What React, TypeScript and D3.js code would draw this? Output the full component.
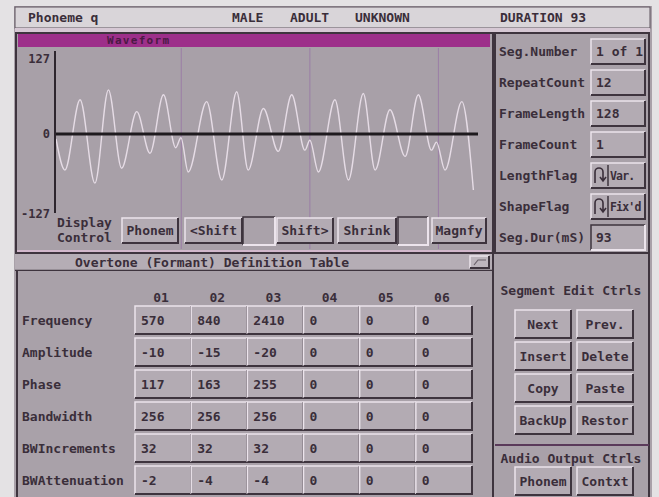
import React from "react";
import * as d3 from "d3";

// header strip
const headerFields = ["Phoneme q", "MALE", "ADULT", "UNKNOWN", "DURATION 93"];

// waveform turning points (sample index, amplitude)
const waveSample = [0, 2.7, 7.3, 11.8, 15.9, 19.9, 24.5, 28.5, 32.6, 36.3, 37.9, 40.1, 45.7, 50.3, 54.8, 58.3, 62.9, 67.4, 71.5, 75.5, 77.0, 79.6, 84.6, 88.7, 93.2, 96.8, 101.3, 105.9, 109.9, 113.9, 115.4, 118, 123.1, 126.6];
const waveValue = [-8, -58, 55, -79, 71, -55, 36, -31, 63, -22, -6, -61, 52, -74, 68, -58, 41, -28, 63, -26, -10, -61, 55, -74, 65, -58, 39, -36, 63, -26, -13, -58, 52, -90];
const gridSample = [38, 77, 116];
const yTicks = [127, 0, -127];

const displayButtons = ["Phonem", "<Shift", "", "Shift>", "Shrink", "", "Magnfy"];

const segLabels = ["Seg.Number", "RepeatCount", "FrameLength", "FrameCount", "LengthFlag", "ShapeFlag", "Seg.Dur(mS)"];
const segValues = ["1 of 1", "12", "128", "1", "Var.", "Fix'd", "93"];

const formantCols = ["01", "02", "03", "04", "05", "06"];
const formantRows = ["Frequency", "Amplitude", "Phase", "Bandwidth", "BWIncrements", "BWAttenuation"];
const frequency = [570, 840, 2410, 0, 0, 0];
const amplitude = [-10, -15, -20, 0, 0, 0];
const phase = [117, 163, 255, 0, 0, 0];
const bandwidth = [256, 256, 256, 0, 0, 0];
const bwIncrements = [32, 32, 32, 0, 0, 0];
const bwAttenuation = [-2, -4, -4, 0, 0, 0];

const editButtons = ["Next", "Prev.", "Insert", "Delete", "Copy", "Paste", "BackUp", "Restor"];
const audioButtons = ["Phonem", "Contxt"];

const W = 659;
const H = 497;
const BG = "#a9a1a9";
const BTN = "#b3abb3";
const INK = "#3a2e3a";
const LIGHT = "#ece4ec";
const DARK = "#3e343e";
const FONT = "'DejaVu Sans Mono', monospace";

const Bevel = ({ x, y, w, h, sunk = false, fill = BTN }: any) => {
  const tl = sunk ? DARK : LIGHT;
  const br = sunk ? LIGHT : DARK;
  return (
    <g>
      <rect x={x} y={y} width={w} height={h} fill={fill} />
      <path d={`M${x},${y + h} V${y} H${x + w}`} stroke={tl} strokeWidth={1.5} fill="none" />
      <path d={`M${x + w},${y} V${y + h} H${x}`} stroke={br} strokeWidth={2} fill="none" />
    </g>
  );
};

const Label = ({ x, y, children, anchor = "start", size = 13, fill = INK, ls = 0 }: any) => (
  <text x={x} y={y} fontFamily={FONT} fontWeight="bold" fontSize={size} fill={fill}
    textAnchor={anchor} dominantBaseline="central" letterSpacing={ls}>{children}</text>
);

const Button = ({ x, y, w, h, text }: any) => (
  <g>
    <Bevel x={x} y={y} w={w} h={h} />
    <Label x={x + w / 2} y={y + h / 2} anchor="middle">{text}</Label>
  </g>
);

export default function App() {
  const x = d3.scaleLinear().domain([0, 128]).range([56, 478]);
  const y = d3.scaleLinear().domain([-127, 127]).range([213, 55]);
  const wave = d3.line<number>()
    .x((_, i) => x(waveSample[i]))
    .y(d => y(d))
    .curve(d3.curveMonotoneX)(waveValue) as string;

  const headerX = [28, 232, 290, 355, 500];

  const dispX = d3.scaleOrdinal<number, number>().domain(d3.range(7)).range([122, 185, 243, 277, 338, 398, 432]);
  const dispW = [56, 57, 32, 56, 58, 30, 54];

  const segY = d3.scaleBand().domain(segLabels).range([39, 39 + 7 * 31 - 6]).paddingInner(6 / 31);

  const colX = d3.scaleBand().domain(formantCols).range([135, 472]);
  const rowY = d3.scaleBand().domain(formantRows).range([306, 306 + 6 * 32 - 4]).paddingInner(4 / 32);
  const table = [frequency, amplitude, phase, bandwidth, bwIncrements, bwAttenuation];

  const editX = d3.scaleBand().domain(["0", "1"]).range([515, 633]).paddingInner(6 / 62);
  const editY = d3.scaleBand().domain(["0", "1", "2", "3"]).range([310, 434]).paddingInner(4 / 32);

  return (
    <svg width={W} height={H} style={{ position: "absolute", left: 0, top: 0 }}>
      <rect width={W} height={H} fill="#e4e2e4" />
      <rect x={14} y={6} width={638} height={H - 6} fill={BG} />

      {/* title strip */}
      <rect x={15} y={7} width={635} height={21} fill="#d9d5d9" stroke="#5c525c" strokeWidth={1} />
      {headerFields.map((t, i) => (
        <Label key={t} x={headerX[i]} y={17}>{t}</Label>
      ))}
      <rect x={15} y={28} width={635} height={4} fill="#d6c8d4" />

      {/* waveform panel */}
      <rect x={16} y={33} width={477} height={220} fill={BG} stroke={DARK} strokeWidth={2} />
      <rect x={18} y={34} width={472} height={13} fill="#9d2f8a" />
      <Label x={107} y={40.5} size={11} ls={1.3} fill="#4a1a44">Waveform</Label>
      <rect x={18} y={47} width={472} height={203} fill="#a8a0a8" />
      {gridSample.map(g => (
        <line key={g} x1={x(g)} x2={x(g)} y1={48} y2={249} stroke="#9c80a6" strokeWidth={1.1} />
      ))}
      <path d={wave} fill="none" stroke="#e6dce6" strokeWidth={1.4} />
      <line x1={x(0)} x2={x(128)} y1={y(0)} y2={y(0)} stroke="#1e1a1e" strokeWidth={3} />
      <line x1={55} x2={55} y1={y(127) - 4} y2={y(-127)} stroke="#2e262e" strokeWidth={2} />
      {yTicks.map(t => (
        <Label key={t} x={50} y={y(t) + (t === 127 ? 4 : t === -127 ? 1 : 0)} anchor="end" size={12}>{t}</Label>
      ))}
      <Label x={57} y={222}>Display</Label>
      <Label x={57} y={237}>Control</Label>
      {displayButtons.map((b, i) =>
        b === "" ? (
          <Bevel key={i} x={dispX(i)} y={217} w={dispW[i]} h={28} sunk fill="#aaa2aa" />
        ) : (
          <Button key={i} x={dispX(i)} y={218} w={dispW[i]} h={25} text={b} />
        )
      )}
      <rect x={17} y={250} width={474} height={2} fill="#d2b8cc" />

      {/* formant table */}
      <rect x={15} y={254} width={478} height={16} fill="#b5adb5" />
      <line x1={15} x2={493} y1={270.5} y2={270.5} stroke={DARK} strokeWidth={1.5} />
      <Label x={212} y={262} anchor="middle">Overtone (Formant) Definition Table</Label>
      <Bevel x={470} y={256} w={19} h={12} fill="#bdb5bd" />
      <path d="M474,265 L478,260 H486" stroke="#6a606a" strokeWidth={1.2} fill="none" />
      <rect x={15} y={271} width={478} height={226} fill={BG} />
      <line x1={17} x2={17} y1={271} y2={H} stroke={DARK} strokeWidth={2} />
      <line x1={493} x2={493} y1={254} y2={H} stroke={DARK} strokeWidth={2} />
      {formantCols.map(c => (
        <Label key={c} x={(colX(c) as number) + colX.bandwidth() / 2 - 2} y={297} anchor="middle">{c}</Label>
      ))}
      {formantRows.map((r, ri) => (
        <g key={r}>
          <Label x={22} y={(rowY(r) as number) + rowY.bandwidth() / 2}>{r}</Label>
          {formantCols.map((c, ci) => (
            <g key={c}>
              <Bevel x={colX(c)} y={rowY(r)} w={colX.bandwidth()} h={rowY.bandwidth()} />
              <Label x={(colX(c) as number) + 6} y={(rowY(r) as number) + rowY.bandwidth() / 2}>
                {table[ri][ci]}
              </Label>
            </g>
          ))}
        </g>
      ))}

      {/* segment parameters */}
      <rect x={495} y={33} width={154} height={220} fill={BG} stroke={DARK} strokeWidth={2} />
      {segLabels.map((s, i) => {
        const top = segY(s) as number;
        const h = segY.bandwidth();
        const flag = s === "LengthFlag" || s === "ShapeFlag";
        return (
          <g key={s}>
            <Label x={499} y={top + h / 2}>{s}</Label>
            <Bevel x={591} y={top} w={54} h={h} sunk={s === "Seg.Dur(mS)"} />
            {flag && (
              <g>
                <path d={`M595,${top + h - 5} V${top + 9} A4,4 0 0 1 603,${top + 9} V${top + h - 8} M600,${top + h - 11} L603,${top + h - 7} L606,${top + h - 11}`}
                  stroke={INK} strokeWidth={1.6} fill="none" />
                <line x1={608} x2={608} y1={top + 2} y2={top + h - 2} stroke={DARK} strokeWidth={1.5} />
              </g>
            )}
            <Label x={flag ? 610 : 596} y={top + h / 2} size={flag ? 11.5 : 13} ls={flag ? -0.8 : 0}>{segValues[i]}</Label>
          </g>
        );
      })}

      {/* segment edit controls */}
      <rect x={495} y={255} width={154} height={242} fill={BG} />
      <line x1={649} x2={649} y1={254} y2={H} stroke={DARK} strokeWidth={2} />
      <Label x={571} y={290} anchor="middle">Segment Edit Ctrls</Label>
      {editButtons.map((b, i) => (
        <Button key={b} x={editX(String(i % 2))} y={editY(String(Math.floor(i / 2)))}
          w={editX.bandwidth()} h={editY.bandwidth()} text={b} />
      ))}
      <line x1={495} x2={649} y1={445} y2={445} stroke="#5a3a5a" strokeWidth={2} />
      <Label x={571} y={458} anchor="middle">Audio Output Ctrls</Label>
      {audioButtons.map((b, i) => (
        <Button key={b} x={editX(String(i))} y={467} w={editX.bandwidth()} h={28} text={b} />
      ))}
    </svg>
  );
}
